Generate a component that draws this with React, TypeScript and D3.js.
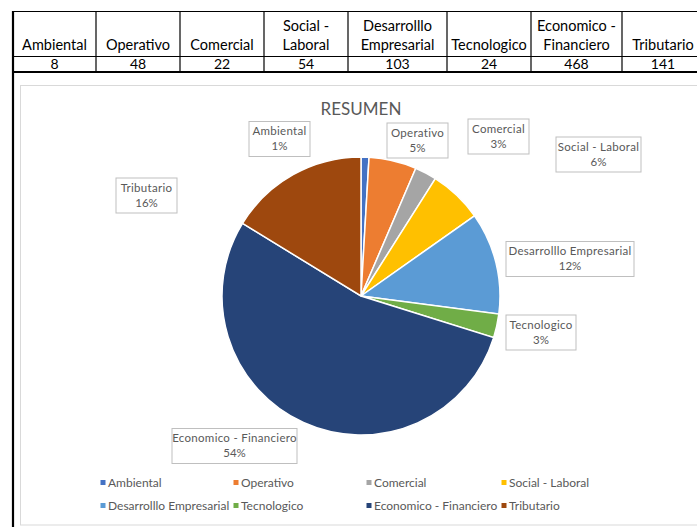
import React, { useEffect, useRef } from 'react';
import * as d3 from 'd3';

// table + pie data
const categories = [
  'Ambiental',
  'Operativo',
  'Comercial',
  'Social - Laboral',
  'Desarrolllo Empresarial',
  'Tecnologico',
  'Economico - Financiero',
  'Tributario',
];
const values = [8, 48, 22, 54, 103, 24, 468, 141];
const pctLabels = ['1%', '5%', '3%', '6%', '12%', '3%', '54%', '16%'];
// header cells as shown in the sheet (wrapped)
const headerLines = [
  ['Ambiental'],
  ['Operativo'],
  ['Comercial'],
  ['Social -', 'Laboral'],
  ['Desarrolllo', 'Empresarial'],
  ['Tecnologico'],
  ['Economico -', 'Financiero'],
  ['Tributario'],
];
const colors = ['#4472C4', '#ED7D31', '#A5A5A5', '#FFC000', '#5B9BD5', '#70AD47', '#264478', '#9E480E'];

// layout only: column borders of the sheet, manual label boxes (cx, cy, w)
const colEdges = [13, 96, 180, 264, 348, 447, 531, 622, 704];
const labelBoxes = [
  [279.5, 139, 61],
  [417.5, 140.5, 61],
  [498.5, 136.5, 61],
  [598.5, 154.5, 85],
  [570, 259, 128],
  [541, 332.5, 70],
  [234.5, 446, 125],
  [146.5, 195.5, 61],
];

const W = 697;
const H = 527;
const FONT = 'Lato, "Open Sans", sans-serif';

const App = () => {
  const ref = useRef<SVGSVGElement>(null);

  useEffect(() => {
    const svg = d3.select(ref.current);
    svg.selectAll('*').remove();

    // ---- sheet table ----
    const t = svg.append('g');
    t.append('line').attr('x1', 13).attr('x2', W).attr('y1', 11.5).attr('y2', 11.5)
      .attr('stroke', '#000').attr('stroke-width', 1.2);
    t.append('line').attr('x1', 13).attr('x2', W).attr('y1', 56.5).attr('y2', 56.5)
      .attr('stroke', '#000').attr('stroke-width', 1.2);
    t.append('line').attr('x1', 13).attr('x2', W).attr('y1', 72).attr('y2', 72)
      .attr('stroke', '#000').attr('stroke-width', 2);
    colEdges.forEach((x, i) => {
      t.append('line')
        .attr('x1', x).attr('x2', x)
        .attr('y1', 11).attr('y2', i === 0 ? 527 : 73)
        .attr('stroke', '#000')
        .attr('stroke-width', i === 0 ? 2.2 : 1.2);
    });
    headerLines.forEach((lines, i) => {
      const cx = (colEdges[i] + colEdges[i + 1]) / 2;
      const base = 50 - (lines.length - 1) * 19;
      lines.forEach((s, j) => {
        t.append('text')
          .attr('x', cx).attr('y', base + j * 19)
          .attr('text-anchor', 'middle')
          .attr('font-family', FONT).attr('font-size', 14.5)
          .attr('fill', '#000')
          .text(s);
      });
      t.append('text')
        .attr('x', cx).attr('y', 68.5)
        .attr('text-anchor', 'middle')
        .attr('font-family', FONT).attr('font-size', 14)
        .attr('fill', '#000')
        .text(values[i]);
    });

    // ---- chart area ----
    svg.append('rect')
      .attr('x', 20.5).attr('y', 85.5)
      .attr('width', 700).attr('height', 439.5)
      .attr('fill', '#fff').attr('stroke', '#D9D9D9');

    svg.append('text')
      .attr('x', 361).attr('y', 115)
      .attr('text-anchor', 'middle')
      .attr('font-family', FONT).attr('font-size', 17)
      .attr('fill', '#595959')
      .text('RESUMEN');

    const cx = 361;
    const cy = 296;
    const r = 139;
    const pie = d3.pie<number>().sort(null).value((d) => d);
    const arc = d3.arc<d3.PieArcDatum<number>>().innerRadius(0).outerRadius(r);
    const arcs = pie(values);

    svg.append('g')
      .attr('transform', `translate(${cx},${cy})`)
      .selectAll('path')
      .data(arcs)
      .join('path')
      .attr('d', arc)
      .attr('fill', (d, i) => colors[i])
      .attr('stroke', '#fff')
      .attr('stroke-width', 1.5);

    // data labels
    const lab = svg.append('g');
    arcs.forEach((d, i) => {
      const [bx, by, bw] = labelBoxes[i];
      const bh = 35;
      lab.append('rect')
        .attr('x', bx - bw / 2).attr('y', by - bh / 2)
        .attr('width', bw).attr('height', bh)
        .attr('fill', '#fff').attr('stroke', '#BFBFBF');
      lab.append('text')
        .attr('x', bx).attr('y', by - 4)
        .attr('text-anchor', 'middle')
        .attr('font-family', FONT).attr('font-size', 11.5)
        .attr('letter-spacing', 0.3)
        .attr('fill', '#595959')
        .text(categories[i]);
      lab.append('text')
        .attr('x', bx).attr('y', by + 11)
        .attr('text-anchor', 'middle')
        .attr('font-family', FONT).attr('font-size', 11.5)
        .attr('fill', '#595959')
        .text(pctLabels[i]);
    });

    // legend
    const legX = [103, 236, 369, 504];
    const legY = [483, 506];
    const leg = svg.append('g');
    categories.forEach((c, i) => {
      const x = legX[i % 4];
      const y = legY[Math.floor(i / 4)];
      leg.append('rect')
        .attr('x', x - 2.5).attr('y', y - 3)
        .attr('width', 5).attr('height', 5)
        .attr('fill', colors[i]);
      leg.append('text')
        .attr('x', x + 5).attr('y', y + 4)
        .attr('font-family', FONT).attr('font-size', 12)
        .attr('fill', '#595959')
        .text(c);
    });
  }, []);

  return (
    <div style={{ position: 'absolute', left: 0, top: 0 }}>
      <svg ref={ref} width={W} height={H} style={{ display: 'block', background: '#fff' }}></svg>
    </div>
  );
};

export default App;
